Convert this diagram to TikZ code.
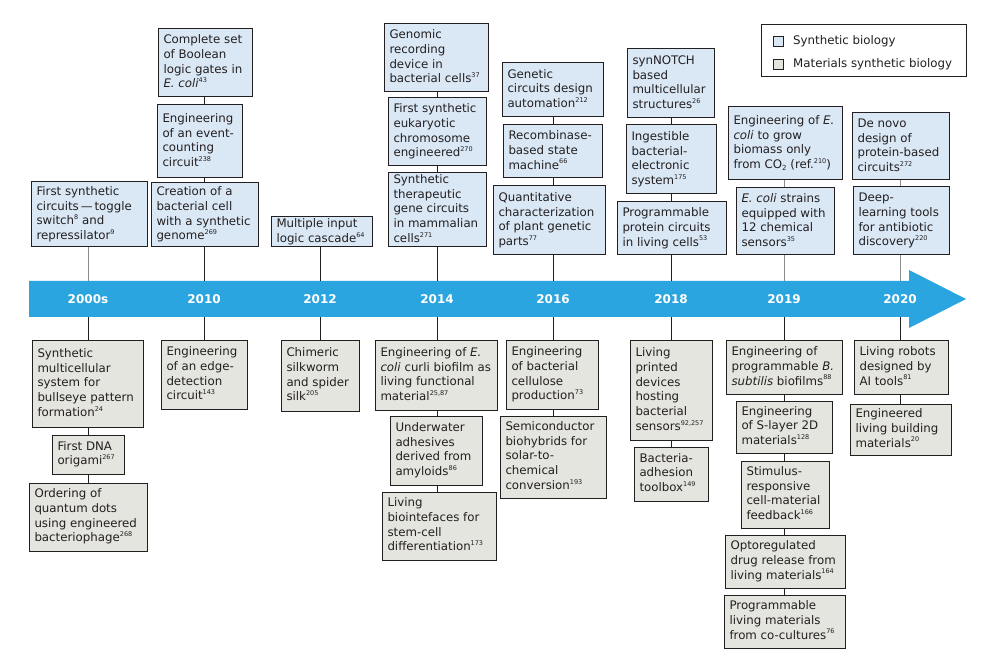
\documentclass[tikz,border=0pt]{standalone}
\usepackage{fontspec}
\setmainfont{DejaVu Sans}
\definecolor{blufill}{HTML}{DAE8F6}
\definecolor{matfill}{HTML}{E5E5E0}
\definecolor{bordc}{HTML}{231F20}
\definecolor{arrowc}{HTML}{2AA5DF}
\definecolor{linegray}{HTML}{8C8C8C}
\newcommand\rf[1]{\raisebox{0.8ex}{\fontsize{6.5}{6.5}\selectfont #1}}
\newcommand\subtwo{\raisebox{-0.35ex}{\fontsize{7}{7}\selectfont 2}}
\newcommand\bxfont{\fontsize{11.8}{14.7}\selectfont}
\newcommand\bx[7]{%
 \pgfmathsetmacro\bxw{#4-#2-11}%
 \pgfmathsetmacro\bxW{#4-#2}%
 \pgfmathsetmacro\bxH{#5-#3}%
 \node[#6, minimum width=\bxW pt, minimum height=\bxH pt] (#1) at ({(#2+#4)/2},{(#3+#5)/2}) {\makebox[\bxw pt][l]{\begin{tabular}{@{}l@{}}#7\end{tabular}}};}
\tikzset{
 basebox/.style={draw=bordc, line width=1pt, inner xsep=5.5pt, inner ysep=0pt, font=\bxfont, text=bordc},
 sb/.style={basebox, fill=blufill},
 mb/.style={basebox, fill=matfill},
 yr/.style={text=white, font=\fontsize{12}{12}\selectfont\bfseries, inner sep=0pt},
 bl/.style={draw=bordc, line width=0.9pt},
 gl/.style={draw=linegray, line width=0.9pt},
 lg/.style={font=\fontsize{11.8}{14}\selectfont, text=bordc, inner sep=0pt, anchor=west}
}
\begin{document}
\begin{tikzpicture}[x=1pt,y=-1pt]
\useasboundingbox (0,0) rectangle (991,660);
\fill[white] (0,0) rectangle (991,660);
% timeline arrow
\fill[arrowc] (29,281) -- (909,281) -- (909,270) -- (966,299) -- (909,328) -- (909,317) -- (29,317) -- cycle;
\coordinate (atop) at (0,281);
\coordinate (abot) at (0,317);
\node[yr] (y2000) at (88,299) {2000s};
\node[yr] (y2010) at (204,299) {2010};
\node[yr] (y2012) at (320,299) {2012};
\node[yr] (y2014) at (437,299) {2014};
\node[yr] (y2016) at (553,299) {2016};
\node[yr] (y2018) at (671,299) {2018};
\node[yr] (y2019) at (784,299) {2019};
\node[yr] (y2020) at (900,299) {2020};
% legend
\node[draw=bordc, line width=1pt, minimum width=205pt, minimum height=52pt, inner sep=0pt] (legend) at (863.5,51) {};
\node[draw=bordc, line width=0.8pt, fill=blufill, minimum size=10pt, inner sep=0pt] (lsq1) at (778,41) {};
\node[draw=bordc, line width=0.8pt, fill=matfill, minimum size=10pt, inner sep=0pt] (lsq2) at (778,64) {};
\node[lg] (ltx1) at (793,41) {Synthetic biology};
\node[lg] (ltx2) at (793,64) {Materials synthetic biology};
% top boxes (synthetic biology)
\bx{A1}{31}{182}{147}{247}{sb}{First synthetic\\circuits\,—\,toggle\\switch\rf{8} and\\repressilator\rf{9}}
\bx{B1}{158}{29}{252}{97}{sb}{Complete set\\of Boolean\\logic gates in\\\textit{E. coli}\rf{43}}
\bx{B2}{157}{105}{242}{178}{sb}{Engineering\\of an event-\\counting\\circuit\rf{238}}
\bx{B3}{151}{183}{258}{247}{sb}{Creation of a\\bacterial cell\\with a synthetic\\genome\rf{269}}
\bx{C1}{271}{217}{372}{247}{sb}{Multiple input\\logic cascade\rf{64}}
\bx{D1}{384}{24}{488}{92}{sb}{Genomic\\recording\\device in\\bacterial cells\rf{37}}
\bx{D2}{388}{98}{486}{166}{sb}{First synthetic\\eukaryotic\\chromosome\\engineered\rf{270}}
\bx{D3}{388}{173}{486}{247}{sb}{Synthetic\\therapeutic\\gene circuits\\in mammalian\\cells\rf{271}}
\bx{E1}{502}{63}{603}{117}{sb}{Genetic\\circuits design\\automation\rf{212}}
\bx{E2}{503}{125}{602}{178}{sb}{Recombinase-\\based state\\machine\rf{66}}
\bx{E3}{493}{186}{605}{255}{sb}{Quantitative\\characterization\\of plant genetic\\parts\rf{77}}
\bx{F1}{627}{49}{714}{118}{sb}{synNOTCH\\based\\multicellular\\structures\rf{26}}
\bx{F2}{626}{125}{716}{194}{sb}{Ingestible\\bacterial-\\electronic\\system\rf{175}}
\bx{F3}{617}{202}{726}{255}{sb}{Programmable\\protein circuits\\in living cells\rf{53}}
\bx{G1}{728}{107}{842}{180}{sb}{Engineering of \textit{E.}\\\textit{coli} to grow\\biomass only\\from CO\subtwo{} (ref.\rf{210})}
\bx{G2}{736}{188}{834}{255}{sb}{\textit{E. coli} strains\\equipped with\\12 chemical\\sensors\rf{35}}
\bx{H1}{852}{113}{949}{180}{sb}{De novo\\design of\\protein-based\\circuits\rf{272}}
\bx{H2}{853}{187}{949}{255}{sb}{Deep-\\learning tools\\for antibiotic\\discovery\rf{220}}
% bottom boxes (materials synthetic biology)
\bx{a1}{32}{341}{143}{427}{mb}{Synthetic\\multicellular\\system for\\bullseye pattern\\formation\rf{24}}
\bx{a2}{52}{435}{124}{474}{mb}{First DNA\\origami\rf{267}}
\bx{a3}{29}{483}{147}{551}{mb}{Ordering of\\quantum dots\\using engineered\\bacteriophage\rf{268}}
\bx{b1}{161}{341}{247}{409}{mb}{Engineering\\of an edge-\\detection\\circuit\rf{143}}
\bx{c1}{281}{341}{359}{411}{mb}{Chimeric\\silkworm\\and spider\\silk\rf{205}}
\bx{d1}{375}{341}{497}{410}{mb}{Engineering of \textit{E.}\\\textit{coli} curli biofilm as\\living functional\\material\rf{25,87}}
\bx{d2}{390}{416}{482}{485}{mb}{Underwater\\adhesives\\derived from\\amyloids\rf{86}}
\bx{d3}{382}{492}{496}{560}{mb}{Living\\biointefaces for\\stem-cell\\differentiation\rf{173}}
\bx{e1}{506}{341}{598}{409}{mb}{Engineering\\of bacterial\\cellulose\\production\rf{73}}
\bx{e2}{500}{416}{606}{498}{mb}{Semiconductor\\biohybrids for\\solar-to-\\chemical\\conversion\rf{193}}
\bx{f1}{630}{341}{712}{440}{mb}{Living\\printed\\devices\\hosting\\bacterial\\sensors\rf{92,257}}
\bx{f2}{634}{447}{708}{501}{mb}{Bacteria-\\adhesion\\toolbox\rf{149}}
\bx{g1}{726}{341}{842}{394}{mb}{Engineering of\\programmable \textit{B.}\\\textit{subtilis} biofilms\rf{88}}
\bx{g2}{736}{401}{832}{453}{mb}{Engineering\\of S-layer 2D\\materials\rf{128}}
\bx{g3}{741}{461}{829}{528}{mb}{Stimulus-\\responsive\\cell-material\\feedback\rf{166}}
\bx{g4}{725}{535}{845}{588}{mb}{Optoregulated\\drug release from\\living materials\rf{164}}
\bx{g5}{724}{595}{845}{648}{mb}{Programmable\\living materials\\from co-cultures\rf{76}}
\bx{h1}{854}{341}{948}{394}{mb}{Living robots\\designed by\\AI tools\rf{81}}
\bx{h2}{850}{404}{951}{455}{mb}{Engineered\\living building\\materials\rf{20}}
% connectors
\draw[gl] (A1.south -| y2000) -- (atop -| y2000);
\draw[bl] (abot -| y2000) -- (a1.north -| y2000);
\draw[bl] (a1.south -| y2000) -- (a2.north -| y2000);
\draw[bl] (a2.south -| y2000) -- (a3.north -| y2000);
\draw[bl] (B1.south -| y2010) -- (B2.north -| y2010);
\draw[bl] (B2.south -| y2010) -- (B3.north -| y2010);
\draw[bl] (B3.south -| y2010) -- (atop -| y2010);
\draw[bl] (abot -| y2010) -- (b1.north -| y2010);
\draw[bl] (C1.south -| y2012) -- (atop -| y2012);
\draw[bl] (abot -| y2012) -- (c1.north -| y2012);
\draw[bl] (D1.south -| y2014) -- (D2.north -| y2014);
\draw[bl] (D2.south -| y2014) -- (D3.north -| y2014);
\draw[bl] (D3.south -| y2014) -- (atop -| y2014);
\draw[bl] (abot -| y2014) -- (d1.north -| y2014);
\draw[bl] (d1.south -| y2014) -- (d2.north -| y2014);
\draw[bl] (d2.south -| y2014) -- (d3.north -| y2014);
\draw[bl] (E1.south -| y2016) -- (E2.north -| y2016);
\draw[bl] (E2.south -| y2016) -- (E3.north -| y2016);
\draw[bl] (E3.south -| y2016) -- (atop -| y2016);
\draw[bl] (abot -| y2016) -- (e1.north -| y2016);
\draw[bl] (e1.south -| y2016) -- (e2.north -| y2016);
\draw[bl] (F1.south -| y2018) -- (F2.north -| y2018);
\draw[bl] (F2.south -| y2018) -- (F3.north -| y2018);
\draw[bl] (F3.south -| y2018) -- (atop -| y2018);
\draw[bl] (abot -| y2018) -- (f1.north -| y2018);
\draw[bl] (f1.south -| y2018) -- (f2.north -| y2018);
\draw[gl] (G1.south -| y2019) -- (G2.north -| y2019);
\draw[gl] (G2.south -| y2019) -- (atop -| y2019);
\draw[bl] (abot -| y2019) -- (g1.north -| y2019);
\draw[bl] (g1.south -| y2019) -- (g2.north -| y2019);
\draw[bl] (g2.south -| y2019) -- (g3.north -| y2019);
\draw[bl] (g3.south -| y2019) -- (g4.north -| y2019);
\draw[bl] (g4.south -| y2019) -- (g5.north -| y2019);
\draw[gl] (H1.south -| y2020) -- (H2.north -| y2020);
\draw[gl] (H2.south -| y2020) -- (atop -| y2020);
\draw[bl] (abot -| y2020) -- (h1.north -| y2020);
\draw[bl] (h1.south -| y2020) -- (h2.north -| y2020);
\end{tikzpicture}
\end{document}
